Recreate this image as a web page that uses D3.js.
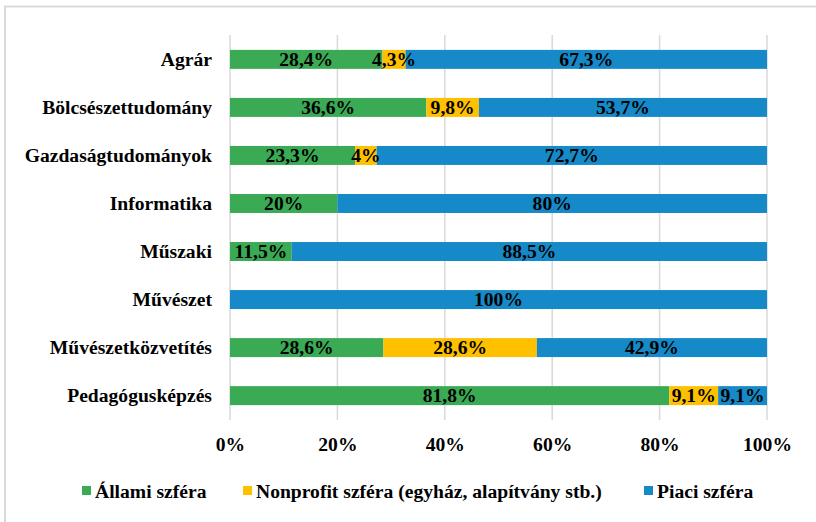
<!DOCTYPE html>
<html>
<head>
<meta charset="utf-8">
<script src="https://cdn.jsdelivr.net/npm/d3@7"></script>
<style>
  html, body { margin: 0; padding: 0; background: #fff; }
  svg { display: block; }
  text { font-family: "Liberation Serif", "DejaVu Serif", serif; font-weight: bold; fill: #000; }
</style>
</head>
<body>
<svg id="chart" width="816" height="522"></svg>
<script>
const categories = ["Agrár", "Bölcsészettudomány", "Gazdaságtudományok", "Informatika", "Műszaki", "Művészet", "Művészetközvetítés", "Pedagógusképzés"];
const seriesNames = ["Állami szféra", "Nonprofit szféra (egyház, alapítvány stb.)", "Piaci szféra"];
const allami = [28.4, 36.6, 23.3, 20, 11.5, 0, 28.6, 81.8];
const nonprofit = [4.3, 9.8, 4, 0, 0, 0, 28.6, 9.1];
const piaci = [67.3, 53.7, 72.7, 80, 88.5, 100, 42.9, 9.1];
const tickValues = [0, 0.2, 0.4, 0.6, 0.8, 1];
const colors = ["#3AAA55", "#FFC000", "#1689C8"];

const FS = 19.6;
const keys = ["a", "n", "p"];
const rows = categories.map((c, i) => {
  const tot = allami[i] + nonprofit[i] + piaci[i];
  return { cat: c, a: allami[i] / tot, n: nonprofit[i] / tot, p: piaci[i] / tot,
           raw: { a: allami[i], n: nonprofit[i], p: piaci[i] } };
});
const stacked = d3.stack().keys(keys)(rows);

const svg = d3.select("#chart");
const m = { left: 230, right: 767, top: 35, bottom: 420 };

// outer border
svg.append("path").attr("d", `M5,522 V6.5 H816`).attr("fill", "none")
  .attr("stroke", "#d9d9d9").attr("stroke-width", 2);

const x = d3.scaleLinear().domain([0, 1]).range([m.left, m.right]);
const y = d3.scaleBand().domain(categories).range([m.top, m.bottom]).paddingInner(0.605).paddingOuter(0.31);

// gridlines
svg.append("g").selectAll("line").data(tickValues).join("line")
  .attr("x1", d => x(d)).attr("x2", d => x(d))
  .attr("y1", m.top).attr("y2", m.bottom)
  .attr("stroke", "#d9d9d9").attr("stroke-width", 1.5);

// bars
const fmt = v => (Number.isInteger(v) ? String(v) : v.toFixed(1).replace(".", ",")) + "%";
stacked.forEach((s, si) => {
  svg.append("g").selectAll("rect").data(s).join("rect")
    .attr("x", d => x(d[0])).attr("width", d => x(d[1]) - x(d[0]))
    .attr("y", d => y(d.data.cat)).attr("height", y.bandwidth())
    .attr("fill", colors[si]);
});
stacked.forEach((s, si) => {
  svg.append("g").selectAll("text").data(s.filter(d => d.data.raw[keys[si]] > 0)).join("text")
    .attr("x", d => (x(d[0]) + x(d[1])) / 2)
    .attr("y", d => y(d.data.cat) + y.bandwidth() / 2)
    .attr("dy", "0.35em")
    .attr("text-anchor", "middle")
    .attr("font-size", FS)
    .text(d => fmt(d.data.raw[keys[si]]));
});

// y axis labels
const yAxis = d3.axisLeft(y).tickSize(0).tickPadding(18);
const gy = svg.append("g").attr("transform", `translate(${m.left},0)`).call(yAxis);
gy.select(".domain").remove();
gy.attr("font-family", null).attr("font-size", null);
gy.selectAll("text").attr("font-size", FS);

// x axis labels
const xAxis = d3.axisBottom(x).tickValues(tickValues).tickFormat(d3.format(".0%")).tickSize(0).tickPadding(17);
const gx = svg.append("g").attr("transform", `translate(0,${m.bottom})`).call(xAxis);
gx.select(".domain").remove();
gx.attr("font-family", null).attr("font-size", null);
gx.selectAll("text").attr("font-size", FS);

// legend
const legendX = [82, 243, 644];
const lg = svg.append("g");
seriesNames.forEach((nm, i) => {
  lg.append("rect").attr("x", legendX[i]).attr("y", 486).attr("width", 9).attr("height", 9).attr("fill", colors[i]);
  lg.append("text").attr("x", legendX[i] + 13).attr("y", 491).attr("dy", "0.35em").attr("font-size", FS).text(nm);
});
</script>
</body>
</html>
